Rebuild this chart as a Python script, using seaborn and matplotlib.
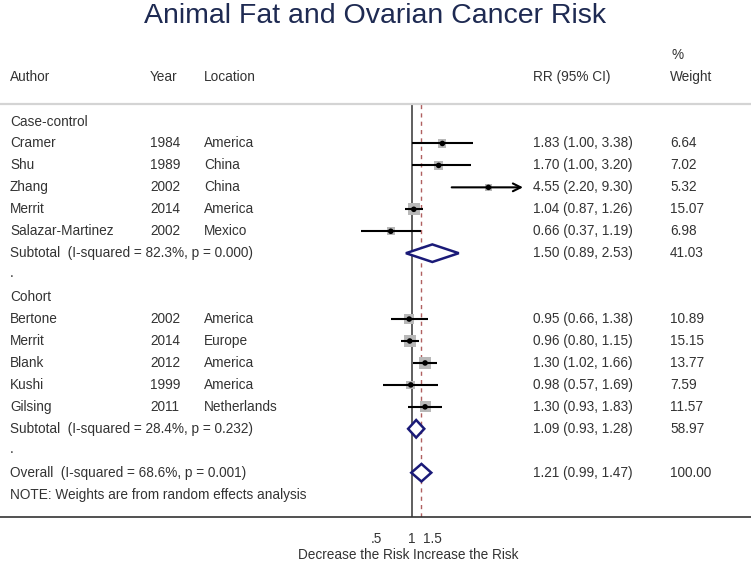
import numpy as np
import pandas as pd
import matplotlib
matplotlib.use("Agg")
import matplotlib.pyplot as plt
import matplotlib.transforms as mtransforms
from matplotlib.patches import Polygon
import seaborn as sns

# ---------------- data ----------------
group_names = ["Case-control", "Cohort"]
authors = ["Cramer", "Shu", "Zhang", "Merrit", "Salazar-Martinez",
           "Bertone", "Merrit", "Blank", "Kushi", "Gilsing"]
years = ["1984", "1989", "2002", "2014", "2002",
         "2002", "2014", "2012", "1999", "2011"]
locations = ["America", "China", "China", "America", "Mexico",
             "America", "Europe", "America", "America", "Netherlands"]
groups = ["Case-control"] * 5 + ["Cohort"] * 5
rr = [1.83, 1.70, 4.55, 1.04, 0.66, 0.95, 0.96, 1.30, 0.98, 1.30]
ci_low = [1.00, 1.00, 2.20, 0.87, 0.37, 0.66, 0.80, 1.02, 0.57, 0.93]
ci_high = [3.38, 3.20, 9.30, 1.26, 1.19, 1.38, 1.15, 1.66, 1.69, 1.83]
weights = [6.64, 7.02, 5.32, 15.07, 6.98, 10.89, 15.15, 13.77, 7.59, 11.57]

subtotal_labels = ["Subtotal  (I-squared = 82.3%, p = 0.000)",
                   "Subtotal  (I-squared = 28.4%, p = 0.232)"]
subtotal_rr = [1.50, 1.09]
subtotal_low = [0.89, 0.93]
subtotal_high = [2.53, 1.28]
subtotal_weight = [41.03, 58.97]

overall_label = "Overall  (I-squared = 68.6%, p = 0.001)"
overall_rr = 1.21
overall_low = 0.99
overall_high = 1.47
overall_weight = 100.00

tick_values = [0.5, 1, 1.5]
tick_labels = [".5", "1", "1.5"]
x_clip_high = 9.0
title = "Animal Fat and Ovarian Cancer Risk"
note = "NOTE: Weights are from random effects analysis"

# ---------------- style ----------------
sns.set_style("white")
plt.rcParams["font.family"] = ["Liberation Sans", "DejaVu Sans"]
FS = 9.8
TXT = "#333333"
NAVY = "#1a1a78"

W, H = 751, 561
fig = plt.figure(figsize=(W / 100, H / 100), dpi=100)
ax_top_px, ax_bot_px = 104, 517
ax = fig.add_axes([0, 1 - ax_bot_px / H, 1, (ax_bot_px - ax_top_px) / H])

row0_px, row_step = 121.5, 21.95
ax.set_ylim((ax_bot_px - row0_px) / row_step, (ax_top_px - row0_px) / row_step)

# ---------------- layout rows ----------------
study_rows = []
header_rows = []
sub_rows = []
dot_rows = []
r = 0
for g in group_names:
    header_rows.append(r)
    r += 1
    for gg in groups:
        if gg == g:
            study_rows.append(r)
            r += 1
    sub_rows.append(r)
    r += 1
    dot_rows.append(r)
    r += 1
overall_row = r
note_row = r + 1

df = pd.DataFrame({"rr": rr, "row": study_rows, "weight": weights,
                   "lo": ci_low, "hi": ci_high})

# CI lines
for _, s in df.iterrows():
    if s["hi"] > x_clip_high:
        ax.annotate("", xy=(x_clip_high, s["row"]), xytext=(s["lo"], s["row"]),
                    arrowprops=dict(arrowstyle="->", lw=1.5, color="black",
                                    shrinkA=0, shrinkB=0, mutation_scale=14))
    else:
        ax.hlines(s["row"], s["lo"], s["hi"], color="black", lw=1.5, zorder=3)

# weight squares
sns.scatterplot(data=df, x="rr", y="row", size="weight", sizes=(0, 80),
                size_norm=(0, max(weights)), marker="s", color="#b8b8b8",
                edgecolor="none", legend=False, ax=ax, zorder=2)
# point estimates
sns.scatterplot(data=df, x="rr", y="row", color="black", s=16, marker="o",
                edgecolor="none", legend=False, ax=ax, zorder=4)
ax.set_xlabel("")
ax.set_ylabel("")

# diamonds
h = 0.40
for lo, est, hi, row in zip(subtotal_low + [overall_low],
                            subtotal_rr + [overall_rr],
                            subtotal_high + [overall_high],
                            sub_rows + [overall_row]):
    poly = Polygon([(lo, row), (est, row - h), (hi, row), (est, row + h)],
                   closed=True, facecolor="white", edgecolor=NAVY, lw=1.8,
                   zorder=5)
    ax.add_patch(poly)

# reference lines
ax.axvline(1, color="#444444", lw=1.2, zorder=1)
ax.axvline(overall_rr, color="#b06060", lw=1.0, dashes=(3, 3), zorder=1)

ax.set_xscale("log")
ln_per_px = 1 / 50.6
x1_px = 411.8
ax.set_xlim(np.exp((0 - x1_px) * ln_per_px), np.exp((W - x1_px) * ln_per_px))
ax.set_xticks(tick_values)
ax.set_xticklabels(tick_labels)
ax.xaxis.set_minor_locator(matplotlib.ticker.NullLocator())
ax.set_yticks([])
ax.tick_params(axis="x", direction="out", length=5, width=1.0, color="#333333",
               labelsize=FS, labelcolor=TXT, pad=6)
for side in ["left", "right"]:
    ax.spines[side].set_visible(False)
ax.spines["bottom"].set_color("#333333")
ax.spines["bottom"].set_linewidth(1.2)
ax.spines["top"].set_color("#d4d4d4")
ax.spines["top"].set_linewidth(1.6)

# ---------------- text columns ----------------
tr = mtransforms.blended_transform_factory(ax.transAxes, ax.transData)
col_author, col_year, col_loc, col_rr, col_w = 10, 150, 204, 533, 670


def put(xpx, row, s, **kw):
    ax.text(xpx / W, row, s, transform=tr, fontsize=FS, color=TXT,
            va="center", ha="left", clip_on=False, **kw)


hdr_row = (77 - row0_px) / row_step
pct_row = (55 - row0_px) / row_step
put(col_author, hdr_row, "Author")
put(col_year, hdr_row, "Year")
put(col_loc, hdr_row, "Location")
put(col_rr, hdr_row, "RR (95% CI)")
put(col_w + 2, pct_row, "%")
put(col_w, hdr_row, "Weight")

for g, hr in zip(group_names, header_rows):
    put(col_author, hr, g)
for i, row in enumerate(study_rows):
    put(col_author, row, authors[i])
    put(col_year, row, years[i])
    put(col_loc, row, locations[i])
    put(col_rr, row, f"{rr[i]:.2f} ({ci_low[i]:.2f}, {ci_high[i]:.2f})")
    put(col_w, row, f"{weights[i]:.2f}")
for i, row in enumerate(sub_rows):
    put(col_author, row, subtotal_labels[i])
    put(col_rr, row, f"{subtotal_rr[i]:.2f} ({subtotal_low[i]:.2f}, {subtotal_high[i]:.2f})")
    put(col_w, row, f"{subtotal_weight[i]:.2f}")
for row in dot_rows:
    put(col_author, row - 0.1, ".")
put(col_author, overall_row, overall_label)
put(col_rr, overall_row, f"{overall_rr:.2f} ({overall_low:.2f}, {overall_high:.2f})")
put(col_w, overall_row, f"{overall_weight:.2f}")
put(col_author, note_row, note)

# x-axis caption
lab_y = -(555 - ax_bot_px) / (ax_bot_px - ax_top_px)
ax.annotate("Decrease the Risk", xy=(1, lab_y), xycoords=("data", "axes fraction"),
            xytext=(-2, 0), textcoords="offset points", ha="right", va="center",
            fontsize=FS, color=TXT, annotation_clip=False)
ax.annotate("Increase the Risk", xy=(1, lab_y), xycoords=("data", "axes fraction"),
            xytext=(1, 0), textcoords="offset points", ha="left", va="center",
            fontsize=FS, color=TXT, annotation_clip=False)

fig.text(0.5, 1 - 23 / H, title, ha="center", va="baseline", fontsize=20.5,
         color="#1e2a52")

fig.savefig("out.png", dpi=100)
